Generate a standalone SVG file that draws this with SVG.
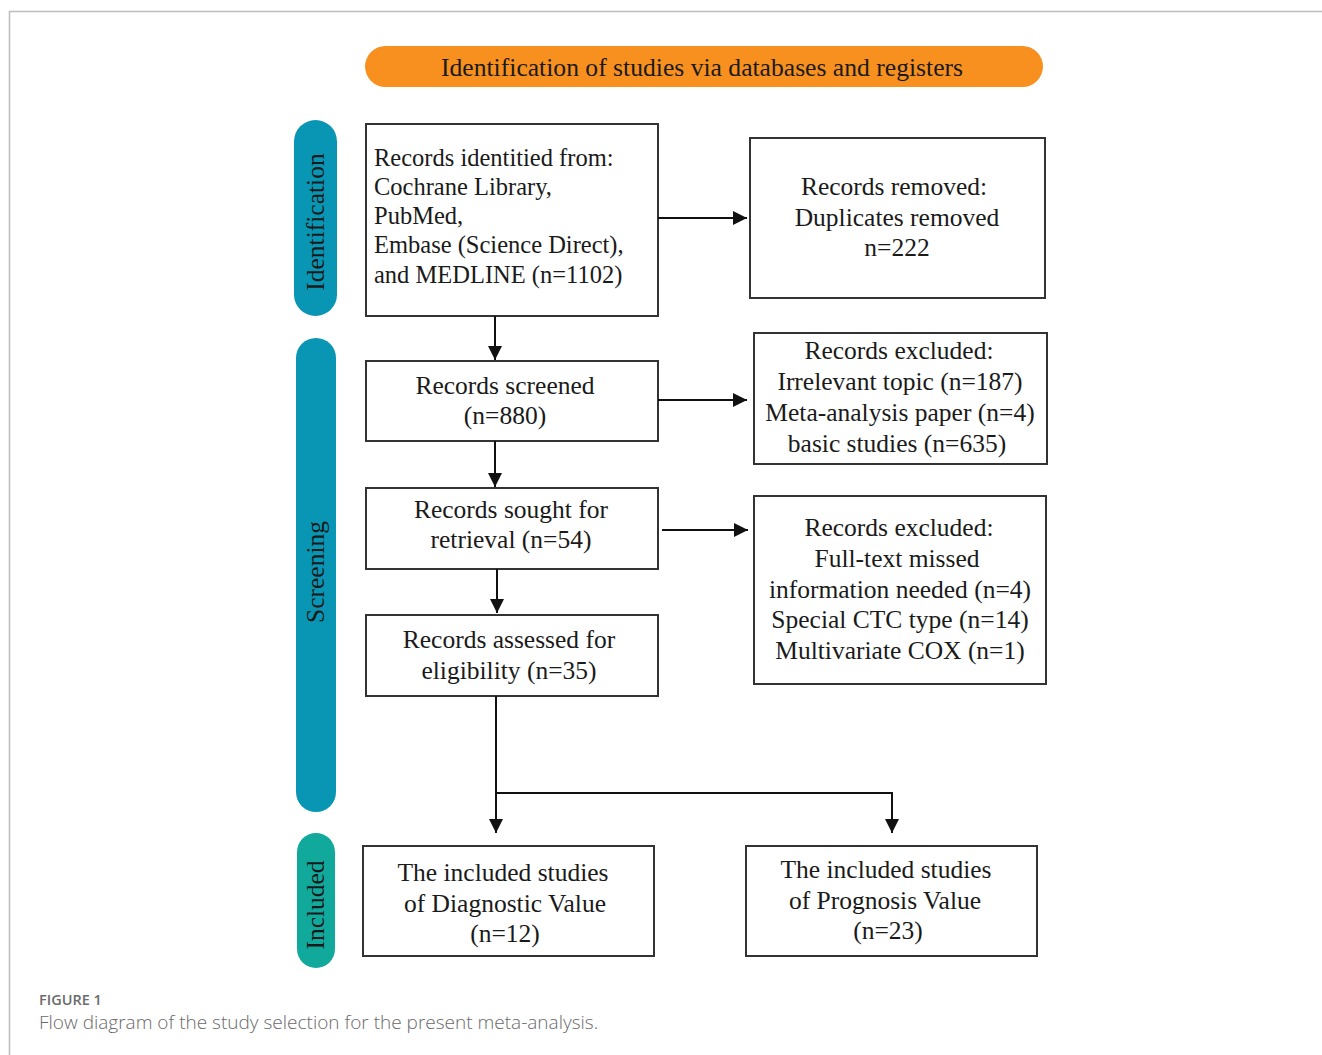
<svg xmlns="http://www.w3.org/2000/svg" width="1322" height="1055" viewBox="0 0 1322 1055">
<style>
.box{fill:#fff;stroke:#333;stroke-width:2}
.t{font-family:"Liberation Serif","Times New Roman",serif;font-size:25.5px;fill:#1a1a1a}
.s{font-size:24.5px}
.c{text-anchor:middle}
.lane{font-family:"Liberation Serif","Times New Roman",serif;font-size:25.5px;fill:#1a1a1a;text-anchor:middle}
.conn{fill:none;stroke:#111;stroke-width:2}
</style>
<defs>
<marker id="arr" viewBox="0 0 10 10" refX="10" refY="5" markerWidth="7" markerHeight="7" markerUnits="strokeWidth" orient="auto">
<path d="M0,0 L10,5 L0,10 z" fill="#111"/>
</marker>
</defs>
<rect width="1322" height="1055" fill="#fff"/>
<path d="M9.5,1055 V11.5 H1322" fill="none" stroke="#bdbdbd" stroke-width="1.5"/>

<g id="header">
<rect x="365" y="46" width="678" height="41" rx="20.5" fill="#F7901E"/>
<text class="t c" x="702" y="76" font-size="25" textLength="522" lengthAdjust="spacingAndGlyphs">Identification of studies via databases and registers</text>
</g>

<g id="lane-identification">
<rect x="294" y="120" width="43" height="196" rx="21.5" fill="#0995B4"/>
<text class="lane" transform="translate(324,222) rotate(-90)">Identification</text>
</g>
<g id="lane-screening">
<rect x="296" y="338" width="40" height="474" rx="20" fill="#0995B4"/>
<text class="lane" transform="translate(324,572) rotate(-90)">Screening</text>
</g>
<g id="lane-included">
<rect x="297" y="833" width="38" height="135" rx="19" fill="#12A99D"/>
<text class="lane" transform="translate(324,905) rotate(-90)">Included</text>
</g>

<g id="identified">
<rect class="box" x="366" y="124" width="292" height="192"/>
<text class="t s" x="374" y="166">Records identitied from:</text>
<text class="t s" x="374" y="195">Cochrane Library,</text>
<text class="t s" x="374" y="224">PubMed,</text>
<text class="t s" x="374" y="253">Embase (Science Direct),</text>
<text class="t s" x="374" y="283">and MEDLINE (n=1102)</text>
</g>

<g id="removed">
<rect class="box" x="750" y="138" width="295" height="160"/>
<text class="t c" x="894" y="195">Records removed:</text>
<text class="t c" x="897" y="226">Duplicates removed</text>
<text class="t c" x="897" y="256">n=222</text>
</g>

<g id="screened">
<rect class="box" x="366" y="361" width="292" height="80"/>
<text class="t c" x="505" y="394">Records screened</text>
<text class="t c" x="505" y="424">(n=880)</text>
</g>

<g id="excluded1">
<rect class="box" x="754" y="333" width="293" height="131"/>
<text class="t c" x="899" y="359">Records excluded:</text>
<text class="t c" x="900" y="390">Irrelevant topic (n=187)</text>
<text class="t c" x="900" y="421">Meta-analysis paper (n=4)</text>
<text class="t c" x="897" y="452">basic studies (n=635)</text>
</g>

<g id="sought">
<rect class="box" x="366" y="488" width="292" height="81"/>
<text class="t c" x="511" y="518">Records sought for</text>
<text class="t c" x="511" y="548">retrieval (n=54)</text>
</g>

<g id="excluded2">
<rect class="box" x="754" y="496" width="292" height="188"/>
<text class="t c" x="899" y="536">Records excluded:</text>
<text class="t c" x="897" y="567">Full-text missed</text>
<text class="t c" x="900" y="598">information needed (n=4)</text>
<text class="t c" x="900" y="628">Special CTC type (n=14)</text>
<text class="t c" x="900" y="659">Multivariate COX (n=1)</text>
</g>

<g id="assessed">
<rect class="box" x="366" y="615" width="292" height="81"/>
<text class="t c" x="509" y="648">Records assessed for</text>
<text class="t c" x="509" y="679">eligibility (n=35)</text>
</g>

<g id="diagnostic">
<rect class="box" x="363" y="846" width="291" height="110"/>
<text class="t c" x="503" y="881">The included studies</text>
<text class="t c" x="505" y="912">of Diagnostic Value</text>
<text class="t c" x="505" y="942">(n=12)</text>
</g>

<g id="prognosis">
<rect class="box" x="746" y="846" width="291" height="110"/>
<text class="t c" x="886" y="878">The included studies</text>
<text class="t c" x="885" y="909">of Prognosis Value</text>
<text class="t c" x="888" y="939">(n=23)</text>
</g>

<g id="connectors">
<path class="conn" d="M658,218 H747" marker-end="url(#arr)"/>
<path class="conn" d="M495,316 V360" marker-end="url(#arr)"/>
<path class="conn" d="M658,400 H747" marker-end="url(#arr)"/>
<path class="conn" d="M495,441 V487" marker-end="url(#arr)"/>
<path class="conn" d="M662,530 H748" marker-end="url(#arr)"/>
<path class="conn" d="M497,569 V613" marker-end="url(#arr)"/>
<path class="conn" d="M496,696 V833" marker-end="url(#arr)"/>
<path class="conn" d="M496,793 H892 V833" marker-end="url(#arr)"/>
</g>

<g id="caption">
<text x="39" y="1005" font-family="'Open Sans','Noto Sans',sans-serif" font-size="14.5" font-weight="600" fill="#6b6b6b">FIGURE 1</text>
<text x="39" y="1029" font-family="'Open Sans','Noto Sans',sans-serif" font-size="19" font-weight="300" fill="#6a6a6a">Flow diagram of the study selection for the present meta-analysis.</text>
</g>
</svg>
